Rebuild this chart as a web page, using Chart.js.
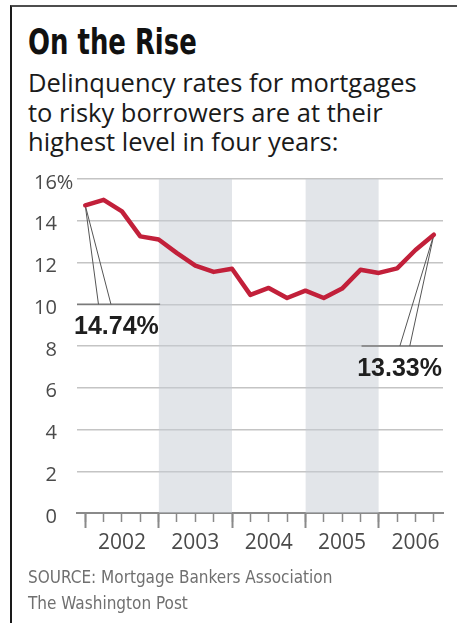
<!DOCTYPE html>
<html><head><meta charset="utf-8">
<script src="https://cdn.jsdelivr.net/npm/chart.js@4/dist/chart.umd.min.js"></script>
<style>
html,body{margin:0;padding:0;background:#fff;width:457px;height:623px;overflow:hidden;}
#frame{position:absolute;left:10px;top:5px;width:447px;height:618px;border-top:2px solid #4d4d4d;border-left:2px solid #1a1a1a;box-sizing:border-box;}
#title{position:absolute;left:28px;top:24px;font:bold 36px/36px "DejaVu Sans Condensed","DejaVu Sans",sans-serif;font-stretch:condensed;color:#111;white-space:nowrap;transform:scaleX(0.8);transform-origin:0 0;}
#sub{position:absolute;left:28px;top:68px;font:400 25.5px/29.5px "Open Sans",sans-serif;color:#1a1a1a;white-space:nowrap;}
#source{position:absolute;left:28px;top:564px;font:17px/26px "Liberation Sans Narrow","DejaVu Sans Condensed",sans-serif;color:#707070;white-space:nowrap;}
canvas{position:absolute;left:0;top:0;}
</style></head>
<body>
<div id="frame"></div>
<div id="title">On the Rise</div>
<div id="sub">Delinquency rates for mortgages<br>to risky borrowers are at their<br>highest level in four years:</div>
<canvas id="c" width="457" height="623"></canvas>
<div id="source">SOURCE: Mortgage Bankers Association<br>The Washington Post</div>
<script>
// quarterly observations, Q1 2002 (index 0) through Q4 2006 (index 19)
const quarters = [0,1,2,3,4,5,6,7,8,9,10,11,12,13,14,15,16,17,18,19];
const rates = [14.74,15.0,14.45,13.25,13.1,12.45,11.85,11.55,11.7,10.45,10.78,10.3,10.65,10.3,10.75,11.65,11.5,11.72,12.6,13.33];
const years = ['2002','2003','2004','2005','2006'];
const yearLabelAt = [2,6,10,14,18];
const yearStarts = [0,4,8,12,16];
const shadedYears = [[4,8],[12,16]];
const yTicks = [0,2,4,6,8,10,12,14,16];
const callouts = [
  {x:0, y:14.74, text:'14.74%', legs:[0.72,1.40], baseY:10, under:[-0.45,4.08], align:'left'},
  {x:19, y:13.33, text:'13.33%', legs:[17.15,17.69], baseY:8, under:[15.06,19.5], align:'right'}
];
const X_MIN = -0.45, X_MAX = 19.5;

const datasets = [];
datasets.push({
  data: quarters.map((q,i)=>({x:q,y:rates[i]})),
  borderColor:'#c2203a', borderWidth:4.5, pointRadius:0, tension:0,
  borderJoinStyle:'round', borderCapStyle:'round', fill:false, order:0
});
callouts.forEach(c=>{
  c.legs.forEach(lx=>{
    datasets.push({data:[{x:c.x,y:c.y},{x:lx,y:c.baseY}], borderColor:'#555', borderWidth:1,
      pointRadius:0, fill:false, order:2});
  });
  datasets.push({data:[{x:c.under[0],y:c.baseY},{x:c.under[1],y:c.baseY}], borderColor:'#7a7a7a', borderWidth:1.6,
    pointRadius:0, fill:false, order:3});
});
shadedYears.forEach(b=>{
  datasets.push({data:[{x:b[0],y:16},{x:b[1],y:16}], borderColor:'rgba(0,0,0,0)', borderWidth:0,
    backgroundColor:'rgba(197,203,211,0.5)', pointRadius:0, fill:'origin', order:9});
});

const calloutPlugin = {
  id:'callouts',
  afterDatasetsDraw(chart){
    const {ctx, scales:{x,y}} = chart;
    ctx.save();
    ctx.font = 'bold 25px "Liberation Sans", Arial, sans-serif';
    ctx.fillStyle = '#1e1e1e';
    ctx.textBaseline = 'alphabetic';
    callouts.forEach(c=>{
      const px = x.getPixelForValue(c.align==='left' ? c.under[0] : c.under[1]);
      const py = y.getPixelForValue(c.baseY);
      ctx.textAlign = c.align;
      ctx.fillText(c.text, px + (c.align==='left' ? -3 : -1), py + 30);
    });
    ctx.restore();
  }
};

new Chart(document.getElementById('c'), {
  type:'line',
  data:{datasets},
  plugins:[calloutPlugin],
  options:{
    responsive:false, animation:false, devicePixelRatio:1,
    layout:{padding:{left:34,right:14,top:179,bottom:60}},
    plugins:{legend:{display:false}, tooltip:{enabled:false}},
    elements:{line:{tension:0}},
    scales:{
      x:{type:'linear', position:'bottom', min:X_MIN, max:X_MAX, weight:1,
        afterBuildTicks:s=>{s.ticks = quarters.map(v=>({value:v}));},
        afterFit:s=>{s.height = 50;},
        ticks:{autoSkip:false, maxRotation:0, minRotation:0, padding:8, color:'#4a4a4a',
          font:{family:'Open Sans', size:21},
          callback:(v)=>{const k = yearLabelAt.indexOf(v); return k>=0 ? years[k] : '';}},
        grid:{drawOnChartArea:false, drawTicks:true, tickLength:9, tickColor:'#8a8a8a', tickWidth:1.5},
        border:{display:true, color:'#8a8a8a', width:2}
      },
      xMajor:{type:'linear', position:'bottom', min:X_MIN, max:X_MAX, weight:0,
        afterBuildTicks:s=>{s.ticks = yearStarts.map(v=>({value:v}));},
        afterFit:s=>{s.height = 0;},
        ticks:{display:false},
        grid:{drawOnChartArea:false, drawTicks:true, tickLength:15, tickColor:'#8a8a8a', tickWidth:2},
        border:{display:false}
      },
      y:{type:'linear', position:'left', min:0, max:16,
        afterBuildTicks:s=>{s.ticks = yTicks.map(v=>({value:v}));},
        afterFit:s=>{s.width = 43;},
        ticks:{crossAlign:'far', labelOffset:4, color:'#4a4a4a', font:{family:'Open Sans', size:20},
          callback:(v)=> v===16 ? '16%' : (v<10 ? '\u2007'+v : String(v))},
        grid:{drawTicks:false, lineWidth:1.5,
          color:(c)=> (c.tick && c.tick.value===0) ? 'rgba(0,0,0,0)' : '#c4c4c4'},
        border:{display:false}
      }
    }
  }
});
</script>
</body></html>
